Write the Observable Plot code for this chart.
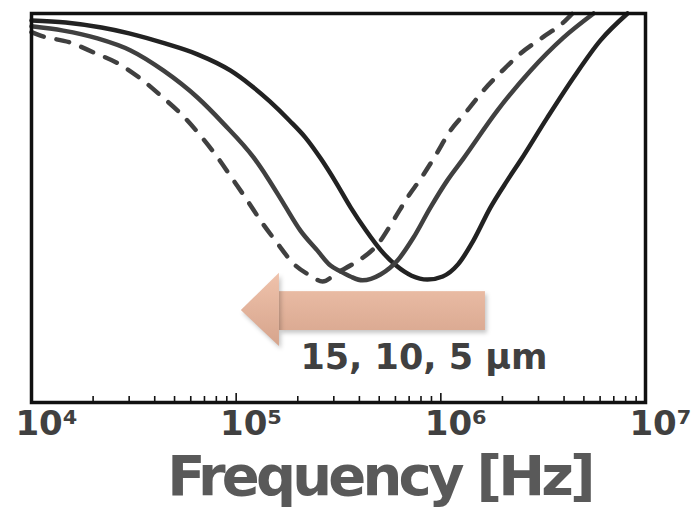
<!DOCTYPE html>
<html><head><meta charset="utf-8">
<script src="https://cdn.jsdelivr.net/npm/d3@7"></script>
<script src="https://cdn.jsdelivr.net/npm/@observablehq/plot@0.6"></script>
<style>body{margin:0;background:#fff}</style>
</head><body><div id="chart"></div>
<script>
// Frequency [Hz] and relative response (arbitrary units, 0–100)
const dashF = [10000,11070,15520,20090,26610,34040,43650,54700,65460,81100,97050,113500,131500,159200,190500,230700,264200,312600,374100,495500,586100,687100,803500,941900,1114000,1349000,1614000,2000000,2449000,3133000,3972000,4395000];
const dashY = [95.2,94.3,92.5,90.0,87.1,83.3,78.5,73.8,69.2,63.0,57.1,51.9,46.8,40.9,35.7,32.6,31.1,33.4,35.7,40.9,46.8,52.7,57.8,63.5,69.9,75.1,80.2,85.3,89.7,93.8,97.7,100];

const grayF = [10000,14300,21000,30500,44200,64700,86700,121600,142200,170200,206100,249000,289000,323600,361400,414000,507000,614000,735000,889000,1076000,1288000,1892000,2742000,3972000,5572000];
const grayY = [96.7,95.6,93.6,90.5,85.3,78.4,71.7,63.0,57.8,51.2,44.2,39.1,35.2,33.7,32.4,31.4,32.9,36.5,42.4,50.1,57.1,62.7,75.1,85.3,93.8,100];

const blackF = [10000,14700,21970,30000,44880,64700,94000,117000,146000,182000,218000,259000,307000,363000,431000,510000,605000,720000,860000,1022000,1213000,1442000,1746000,2113000,2449000,3319000,4446000,6026000,8166000];
const blackY = [98.2,97.7,96.4,94.9,92.3,89.5,85.3,81.7,77.4,72.5,68.1,62.7,56.6,50.1,44.2,39.1,35.2,32.6,31.6,32.4,35.5,41.6,50.1,57.1,62.2,73.3,83.5,93.1,100];

const tickVals = [1e4, 1e5, 1e6, 1e7];
const tickLabels = ["10⁴", "10⁵", "10⁶", "10⁷"];
const minorMult = [2,3,4,5,6,7,8,9];
const arrowLabel = "15, 10, 5 μm";
const xLabel = "Frequency [Hz]";

const toRows = (f, y) => f.map((v, i) => ({f: v, v: y[i]}));
const dashRows = toRows(dashF, dashY);
const grayRows = toRows(grayF, grayY);
const blackRows = toRows(blackF, blackY);
const minorTicks = tickVals.slice(0, 3).flatMap(d => minorMult.map(m => d * m));
const majorTicks = tickVals.slice(1, 3);

// arrow annotation geometry (data coordinates)
const shaft = [{x1: 1.627e5, x2: 1.652e6, y1: 18.5, y2: 28.5}];
const head = [{f: 1.06e5, lo: 23.65, hi: 23.65}, {f: 1.627e5, lo: 14.4, hi: 33.2}];

const font = "DejaVu Sans";
const chart = Plot.plot({
  width: 697, height: 516,
  marginLeft: 31, marginRight: 52, marginTop: 13, marginBottom: 114,
  x: {type: "log", domain: [1e4, 1e7], axis: null},
  y: {domain: [0, 100], axis: null},
  style: {fontFamily: font, background: "#fff", overflow: "visible"},
  marks: [
    Plot.ruleX(minorTicks, {x: d => d, insetTop: 389 - 6, stroke: "#111", strokeWidth: 1.6}),
    Plot.ruleX(majorTicks, {x: d => d, insetTop: 389 - 9, stroke: "#111", strokeWidth: 1.6}),
    Plot.line(blackRows, {x: "f", y: "v", stroke: "#222", strokeWidth: 4.5, curve: "monotone-x"}),
    Plot.line(grayRows, {x: "f", y: "v", stroke: "#404040", strokeWidth: 4.5, curve: "monotone-x"}),
    Plot.line(dashRows, {x: "f", y: "v", stroke: "#404040", strokeWidth: 4.5, curve: "monotone-x", strokeDasharray: "13,13", strokeLinecap: "round"}),
    Plot.rect(shaft, {x1: "x1", x2: "x2", y1: "y1", y2: "y2", fill: "url(#arrowGrad)"}),
    Plot.areaY(head, {x: "f", y1: "lo", y2: "hi", fill: "url(#arrowGrad)", curve: "linear"}),
    Plot.text([arrowLabel], {x: 2.06e5, y: 11.6, text: d => d, textAnchor: "start", fontSize: 35, fontWeight: "bold", fill: "#404040"}),
    Plot.frame({stroke: "#111", strokeWidth: 3.5}),
    Plot.text(tickVals, {x: d => d, text: (d, i) => tickLabels[i], frameAnchor: "bottom", dy: 32, dx: 15, fontSize: 34, fontWeight: "bold", fill: "#404040"}),
    Plot.text([xLabel], {text: d => d, frameAnchor: "bottom", dx: 41, dy: 92, fontSize: 56, fontWeight: "bold", fill: "#595959"})
  ]
});
document.getElementById("chart").appendChild(chart);

const svg = d3.select(chart);
const defs = svg.insert("defs", ":first-child");
const g = defs.append("linearGradient").attr("id", "arrowGrad")
  .attr("gradientUnits", "userSpaceOnUse").attr("x1", 0).attr("x2", 0).attr("y1", 273).attr("y2", 346);
g.append("stop").attr("offset", "0%").attr("stop-color", "#efc2ab");
g.append("stop").attr("offset", "100%").attr("stop-color", "#d6a48c");
svg.selectAll('g[aria-label="rect"], g[aria-label="area"]')
  .style("filter", "drop-shadow(2px 3px 2px rgba(0,0,0,0.22))");
svg.selectAll('g[aria-label="text"] text').filter(function() { return this.textContent === xLabel; })
  .attr("letter-spacing", "-3.8px");
</script>
</body></html>
